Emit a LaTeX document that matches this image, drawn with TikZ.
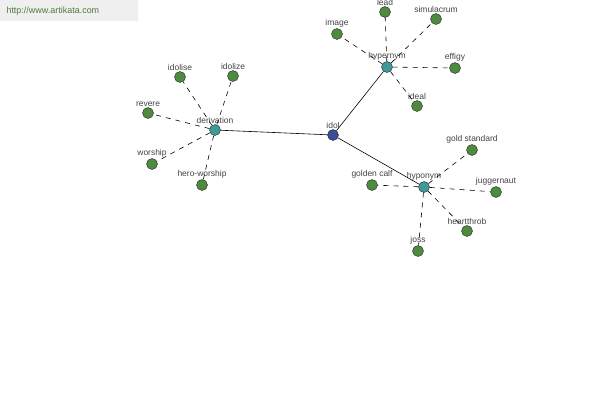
\documentclass[tikz,border=0pt]{standalone}
\usepackage{fontspec}
\setmainfont{Liberation Sans}
\usetikzlibrary{arrows.meta,positioning}
\definecolor{akgreen}{HTML}{4E8B3F}
\definecolor{akteal}{HTML}{3E9A98}
\definecolor{akblue}{HTML}{3A4C9A}
\definecolor{aktext}{HTML}{444444}
\definecolor{akbar}{HTML}{EFEFEF}
\definecolor{akurl}{HTML}{4F7A3F}
\tikzset{
  dot/.style={circle,draw=black!85,thin,minimum size=11bp,inner sep=0pt},
  leaf/.style={dot,fill=akgreen},
  rel/.style={dot,fill=akteal},
  head/.style={dot,fill=akblue},
  lab/.style={font=\fontsize{8.5}{9}\selectfont,text=aktext,inner sep=0.5pt,label distance=0bp},
  tie/.style={draw=black,semithick},
  dtie/.style={draw=black,semithick,dash pattern=on 5bp off 5bp},
}

\begin{document}
\begin{tikzpicture}[x=1bp,y=-1bp]
  \useasboundingbox (0,0) rectangle (600,400);
  \fill[white] (0,0) rectangle (600,400);
  \fill[akbar] (0,0) rectangle (138,21);
  \node[font=\fontsize{9}{10}\selectfont,text=akurl,anchor=west] (url) at (3,11) {http://www.artikata.com};

  % main word and relation nodes
  \node[head,label={[lab]above:idol}] (idol) at (333,135) {};
  \node[rel,label={[lab]above:derivation}] (der) at (215,130) {};
  \node[rel,label={[lab]above:hypernym}] (hyper) at (387,67) {};
  \node[rel,label={[lab]above:hyponym}] (hypo) at (424,187) {};

  % derivation
  \node[leaf,label={[lab]above:idolise}] (idolise) at (180,77) {};
  \node[leaf,label={[lab]above:idolize}] (idolize) at (233,76) {};
  \node[leaf,label={[lab]above:revere}] (revere) at (148,113) {};
  \node[leaf,label={[lab]above:worship}] (worship) at (152,164) {};
  \node[leaf,label={[lab]above:hero-worship}] (heroworship) at (202,185) {};

  % hypernym
  \node[leaf,label={[lab]above:lead}] (lead) at (385,12) {};
  \node[leaf,label={[lab]above:simulacrum}] (simulacrum) at (436,19) {};
  \node[leaf,label={[lab]above:image}] (image) at (337,34) {};
  \node[leaf,label={[lab]above:effigy}] (effigy) at (455,68) {};
  \node[leaf,label={[lab]above:ideal}] (ideal) at (417,106) {};

  % hyponym
  \node[leaf,label={[lab]above:gold standard}] (goldstd) at (472,150) {};
  \node[leaf,label={[lab]above:golden calf}] (goldcalf) at (372,185) {};
  \node[leaf,label={[lab]above:juggernaut}] (jugg) at (496,192) {};
  \node[leaf,label={[lab]above:heartthrob}] (heart) at (467,231) {};
  \node[leaf,label={[lab]above:joss}] (joss) at (418,251) {};

  \draw[tie] (idol) -- (der);
  \draw[tie] (idol) -- (hyper);
  \draw[tie] (idol) -- (hypo);
  \foreach \n in {idolise,idolize,revere,worship,heroworship}
    \draw[dtie] (der) -- (\n);
  \foreach \n in {lead,simulacrum,image,effigy,ideal}
    \draw[dtie] (hyper) -- (\n);
  \foreach \n in {goldstd,goldcalf,jugg,heart,joss}
    \draw[dtie] (hypo) -- (\n);
\end{tikzpicture}
\end{document}
